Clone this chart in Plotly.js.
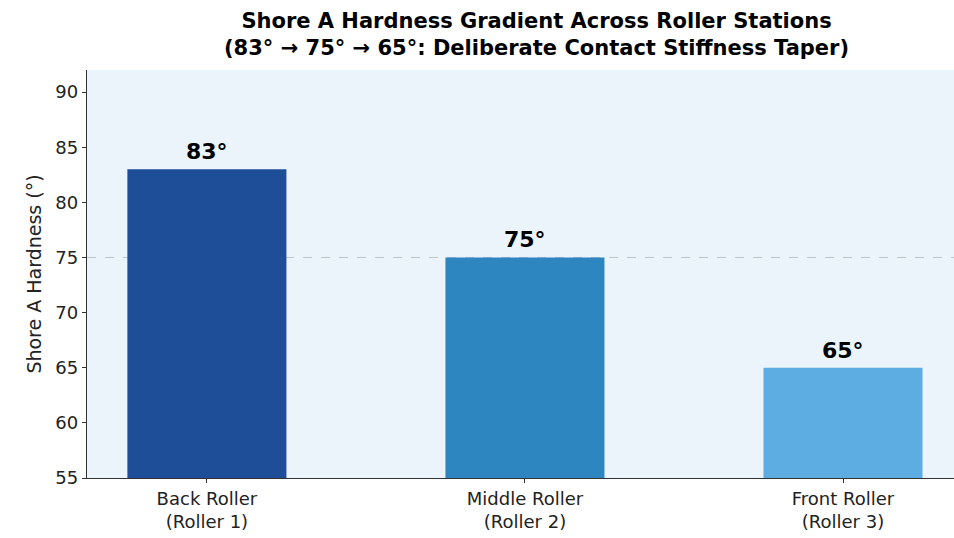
<!DOCTYPE html>
<html>
<head>
<meta charset="utf-8">
<script src="https://cdn.plot.ly/plotly-3.0.1.min.js"></script>
<style>html,body{margin:0;padding:0;background:#fff;}#chart{width:954px;height:538px;}</style>
</head>
<body>
<div id="chart"></div>
<script>
var categories = ["Back Roller<br>(Roller 1)", "Middle Roller<br>(Roller 2)", "Front Roller<br>(Roller 3)"];
var hardness = [83, 75, 65];
var valueLabels = ["83°", "75°", "65°"];
var barColors = ["#1f4e99", "#2e86c1", "#5dade2"];
var yTicks = [55, 60, 65, 70, 75, 80, 85, 90];
var referenceLine = 75;
var chartTitle = "<b>Shore A Hardness Gradient Across Roller Stations<br>(83° → 75° → 65°: Deliberate Contact Stiffness Taper)</b>";

var xIdx = categories.map(function(_, i){ return i; });

var trace = {
  type: "bar",
  x: xIdx,
  y: hardness.map(function(v){ return v - 55; }),
  base: 55,
  width: 0.5,
  marker: {color: barColors, line: {width: 0}},
  hoverinfo: "skip"
};

var annotations = xIdx.map(function(i){
  return {
    x: i, y: hardness[i], xref: "x", yref: "y",
    text: "<b>" + valueLabels[i] + "</b>",
    showarrow: false, yanchor: "bottom", yshift: 3,
    font: {family: "DejaVu Sans", size: 22, color: "#000"}
  };
});
annotations.push({
  xref: "paper", yref: "paper", x: 0.518, y: 1.087, xanchor: "center", yanchor: "middle",
  text: chartTitle, showarrow: false,
  font: {family: "DejaVu Sans", size: 21, color: "#000"}
});

var layout = {
  width: 954, height: 538,
  paper_bgcolor: "#ffffff",
  plot_bgcolor: "#ebf3fb",
  margin: {l: 87, r: 0, t: 70, b: 60},
  showlegend: false,
  xaxis: {
    range: [-0.377, 2.349],
    tickvals: xIdx, ticktext: categories,
    ticks: "outside", ticklen: 4, tickwidth: 1, tickcolor: "#333",
    showline: true, linecolor: "#333", linewidth: 1.2,
    showgrid: false, zeroline: false,
    tickfont: {family: "DejaVu Sans", size: 18, color: "#222"}
  },
  yaxis: {
    range: [55, 92],
    tickvals: yTicks,
    ticks: "outside", ticklen: 4, tickwidth: 1, tickcolor: "#333",
    showline: true, linecolor: "#333", linewidth: 1.2,
    showgrid: false, zeroline: false,
    tickfont: {family: "DejaVu Sans", size: 18, color: "#222"},
    title: {text: "Shore A Hardness (°)", font: {family: "DejaVu Sans", size: 19, color: "#222"}, standoff: 8}
  },
  shapes: [{
    type: "line", xref: "paper", x0: 0, x1: 1, yref: "y", y0: referenceLine, y1: referenceLine,
    line: {color: "rgba(150,150,150,0.5)", width: 1, dash: "dash"}, layer: "below"
  }],
  annotations: annotations
};

Plotly.newPlot("chart", [trace], layout, {displayModeBar: false, staticPlot: true});
</script>
</body>
</html>
